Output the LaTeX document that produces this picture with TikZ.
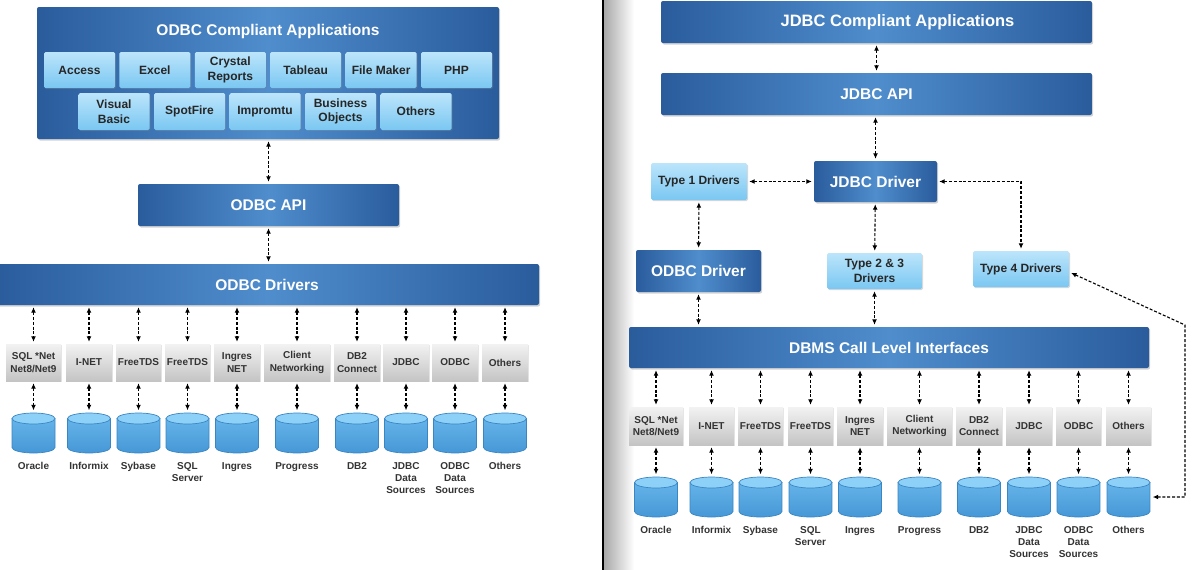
\documentclass[tikz,border=0pt]{standalone}
\usepackage{fontspec}
\setmainfont{Liberation Sans}
\usetikzlibrary{arrows.meta,shadows}

\definecolor{boxdark}{HTML}{2A5C9C}
\definecolor{boxmid}{HTML}{4F8DCD}
\definecolor{applight}{HTML}{BCE5FB}
\definecolor{appdeep}{HTML}{7AC7F2}
\definecolor{drvgray}{HTML}{C4C4C4}
\definecolor{cylupper}{HTML}{6BB8EC}
\definecolor{cyllower}{HTML}{4597D6}
\definecolor{cyltop}{HTML}{8ED1F8}
\definecolor{cyledge}{HTML}{3A86C4}

\tikzset{
  darkbox/.style={rounded corners=2pt, inner sep=0pt, left color=boxdark, right color=boxdark, middle color=boxmid,
    text=white, font=\bfseries\fontsize{15.5}{18}\selectfont,
    drop shadow={opacity=0.35, shadow xshift=1.2pt, shadow yshift=-1.5pt}},
  appbox/.style={rounded corners=1.5pt, inner sep=0pt, top color=applight, bottom color=appdeep, align=center,
    text=black!85, font=\bfseries\fontsize{12}{14.5}\selectfont, minimum width=71pt,
    drop shadow={opacity=0.3, shadow xshift=1pt, shadow yshift=-1.2pt}},
  drvbox/.style={inner sep=0pt, top color=white!95!black, bottom color=drvgray, align=center, minimum height=37pt,
    text=black!80, font=\bfseries\fontsize{10}{12.3}\selectfont,
    drop shadow={opacity=0.2, shadow xshift=1pt, shadow yshift=-1pt}},
  dbcyl/.style={minimum width=44pt, minimum height=41pt, inner sep=0pt,
    path picture={
      \shade[top color=cylupper, bottom color=cyllower, draw=cyledge, line width=0.7pt]
        ([shift={(-21.5pt,-6pt)}]path picture bounding box.north) -- ([shift={(-21.5pt,6pt)}]path picture bounding box.south)
        arc[start angle=180, end angle=360, x radius=21.5pt, y radius=5.5pt]
        -- ([shift={(21.5pt,-6pt)}]path picture bounding box.north) -- cycle;
      \filldraw[fill=cyltop, draw=cyledge, line width=0.7pt]
        ([yshift=-6pt]path picture bounding box.north) ellipse [x radius=21.5pt, y radius=5.5pt];
    }},
  dblabel/.style={anchor=north, align=center, inner sep=0pt, text=black!80, font=\bfseries\fontsize{10}{12.3}\selectfont},
  conn/.style={{Latex[length=5.5pt,width=5pt]}-{Latex[length=5.5pt,width=5pt]}, line width=1.1pt,
    dash pattern=on 3pt off 1.8pt, shorten <=2pt, shorten >=2pt}
}

\begin{document}
\begin{tikzpicture}[x=1pt,y=-1pt]
  \useasboundingbox (0,0) rectangle (1200,570);
  % right panel edge
  \shade[left color=black!35, right color=white] (603,0) rectangle (634,570);
  \draw[line width=1.5pt] (603,0) -- (603,570);

  % ODBC side
  \node (apps) [darkbox, minimum width=462pt, minimum height=132pt] at (268,73) {};
  \node (appstitle) [text=white, font=\bfseries\fontsize{15.5}{18}\selectfont] at (268,31) {ODBC Compliant Applications};
  \node (access) [appbox, minimum height=36pt] at (79.5,70) {Access};
  \node (excel) [appbox, minimum height=36pt] at (154.9,70) {Excel};
  \node (crystal) [appbox, minimum height=36pt] at (230.3,70) {Crystal\\Reports};
  \node (tableau) [appbox, minimum height=36pt] at (305.7,70) {Tableau};
  \node (filemaker) [appbox, minimum height=36pt] at (381.1,70) {File Maker};
  \node (php) [appbox, minimum height=36pt] at (456.5,70) {PHP};
  \node (vbasic) [appbox, minimum height=37pt] at (114,111.5) {Visual\\Basic};
  \node (spotfire) [appbox, minimum height=37pt] at (189.5,111.5) {SpotFire};
  \node (impromtu) [appbox, minimum height=37pt] at (265,111.5) {Impromtu};
  \node (busobj) [appbox, minimum height=37pt] at (340.5,111.5) {Business\\Objects};
  \node (appothers) [appbox, minimum height=37pt] at (416,111.5) {Others};

  \node (oapi) [darkbox, minimum width=261pt, minimum height=42pt] at (268.5,205) {ODBC API};
  \node (odrv) [darkbox, minimum width=544pt, minimum height=41pt] at (267,284.5) {ODBC Drivers};

  \draw[conn] (oapi.north |- apps.south) -- (oapi.north);
  \draw[conn] (oapi.south) -- (oapi.south |- odrv.north);

  \foreach \cx/\w/\gname/\dname [count=\i] in {
      33.5/55/{SQL *Net\\Net8/Net9}/Oracle, 89/46/I-NET/Informix, 138.5/45/FreeTDS/Sybase,
      187.5/45/FreeTDS/{SQL\\Server}, 237/46/{Ingres\\NET}/Ingres, 297/66/{Client\\Networking}/Progress,
      357/46/{DB2\\Connect}/DB2, 406/46/JDBC/{JDBC\\Data\\Sources}, 455/46/ODBC/{ODBC\\Data\\Sources},
      505/46/Others/Others}
  {
    \node (gl\i) [drvbox, minimum width=\w pt] at (\cx,362.5) {\gname};
    \node (dl\i) [dbcyl] at (\cx,433) {};
    \node (nl\i) [dblabel] at (\cx,462) {\dname};
    \draw[conn] (gl\i.north |- odrv.south) -- (gl\i.north);
    \draw[conn] (gl\i) -- (dl\i);
  }

  % JDBC side
  \node (japps) [darkbox, minimum width=431pt, minimum height=42pt, font=\bfseries\fontsize{16.5}{19}\selectfont] at (876.5,22) {\hspace*{42pt}JDBC Compliant Applications};
  \node (japi) [darkbox, minimum width=431pt, minimum height=42pt] at (876.5,94) {JDBC API};
  \node (type1) [appbox, minimum width=96pt, minimum height=37pt] at (699,181.5) {Type 1 Drivers};
  \node (jdrv) [darkbox, minimum width=123pt, minimum height=41pt] at (875.5,181.5) {JDBC Driver};
  \node (odbcdrv) [darkbox, minimum width=125pt, minimum height=42pt] at (698.5,271) {ODBC Driver};
  \node (type23) [appbox, minimum width=95pt, minimum height=36pt] at (874.5,271) {Type 2 \& 3\\Drivers};
  \node (type4) [appbox, minimum width=96pt, minimum height=36pt] at (1021,269) {Type 4 Drivers};
  \node (dbms) [darkbox, minimum width=520pt, minimum height=41pt] at (889,347.5) {DBMS Call Level Interfaces};
  \coordinate (bend) at (1185,325);

  \draw[conn] (japps) -- (japi);
  \draw[conn] (jdrv.north |- japi.south) -- (jdrv.north);
  \draw[conn] (type1) -- (jdrv);
  \draw[conn] (jdrv.east) -| (type4.north);
  \draw[conn] (type1) -- (odbcdrv);
  \draw[conn] (jdrv) -- (type23);
  \draw[conn] (odbcdrv.south) -- (odbcdrv.south |- dbms.north);
  \draw[conn] (type23.south) -- (type23.south |- dbms.north);

  \foreach \cx/\w/\gname/\dname [count=\i] in {
      656/54/{SQL *Net\\Net8/Net9}/Oracle, 711.5/45/I-NET/Informix, 760.5/45/FreeTDS/Sybase,
      810.5/45/FreeTDS/{SQL\\Server}, 860/46/{Ingres\\NET}/Ingres, 919.5/65/{Client\\Networking}/Progress,
      979/46/{DB2\\Connect}/DB2, 1029/46/JDBC/{JDBC\\Data\\Sources}, 1078.5/45/ODBC/{ODBC\\Data\\Sources},
      1128.5/45/Others/Others}
  {
    \node (gr\i) [drvbox, minimum width=\w pt, minimum height=38pt] at (\cx,426) {\gname};
    \node (dr\i) [dbcyl] at (\cx,497) {};
    \node (nr\i) [dblabel] at (\cx,526) {\dname};
    \draw[conn] (gr\i.north |- dbms.south) -- (gr\i.north);
    \draw[conn] (gr\i) -- (dr\i);
  }
  \draw[conn] ([yshift=-3pt]type4.east) -- (bend) |- (dr10.east);
\end{tikzpicture}
\end{document}
